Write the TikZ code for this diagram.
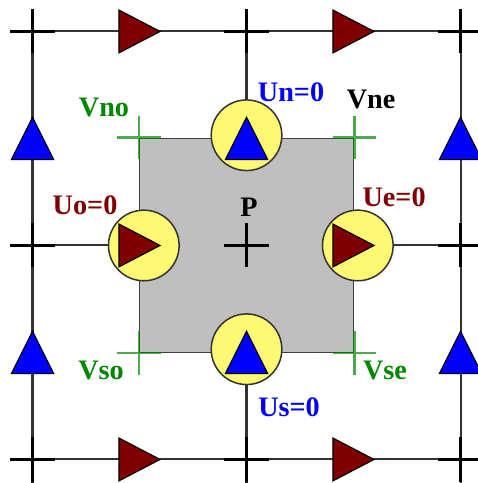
\documentclass[tikz,border=0pt]{standalone}
\usepackage{fontspec}
\setmainfont{Liberation Serif}
\usetikzlibrary{positioning}
\definecolor{udark}{RGB}{128,0,0}
\definecolor{vgreen}{RGB}{0,135,0}

\begin{document}
\begin{tikzpicture}[
  x=2cm, y=2cm,
  font=\bfseries\fontsize{15}{17}\selectfont,
  grid/.style={draw=black!80, line width=1.1pt},
  cross/.style={draw=black, line width=1.2pt},
  vcross/.style={draw=vgreen, line width=1.1pt, opacity=0.7},
  cell/.style={draw=black!75, line width=1pt, fill=black!25, minimum size=4cm, inner sep=0pt},
  disc/.style={circle, draw=black!80, fill=yellow!55, line width=0.8pt, minimum size=1.32cm, inner sep=0pt},
  utri/.pic={\draw[fill=udark, line width=0.6pt] (-0.192,0.2) -- (0.192,0) -- (-0.192,-0.2) -- cycle;},
  vtri/.pic={\draw[fill=blue, line width=0.6pt] (0,0.198) -- (0.198,-0.198) -- (-0.198,-0.198) -- cycle;}
]
\useasboundingbox (-2.304,-2.220) rectangle (2.154,2.294);

% grid lines
\foreach \u in {-2,0,2}
  \draw[grid] (\u,2.206) -- (\u,-2.220);
\foreach \v in {-2,0,2}
  \draw[grid] (-2.206,\v) -- (2.154,\v);

% control volume around P
\node[cell] (cv) at (0,0) {};

% grid nodes
\foreach \u in {-2,0,2}
  \foreach \v in {-2,0,2}
    \draw[cross] (\u-0.206,\v) -- (\u+0.206,\v) (\u,\v-0.206) -- (\u,\v+0.206);

% corner points
\foreach \c in {north west,north east,south west,south east}
  \draw[vcross] ([xshift=-0.41cm]cv.\c) -- ([xshift=0.41cm]cv.\c)
                ([yshift=-0.41cm]cv.\c) -- ([yshift=0.41cm]cv.\c);

% faces of the control volume
\node[disc] (fn) at (0,1.03) {};
\node[disc] (fs) at (0,-0.97) {};
\node[disc] (fo) at (-0.96,0) {};
\node[disc] (fe) at (1.04,0) {};

\pic at (0,1) {vtri};
\pic at (0,-1) {vtri};
\pic at (-1,0) {utri};
\pic at (1,0) {utri};

% outer faces
\foreach \v in {1,-1} {
  \pic at (-2,\v) {vtri};
  \pic at (2,\v) {vtri};
}
\foreach \u in {1,-1} {
  \pic at (\u,2) {utri};
  \pic at (\u,-2) {utri};
}

% labels
\node (lp) at (0.023,0.36) {P};
\node[text=vgreen] (lno) at (-1.332,1.285) {Vno};
\node (lne) at (1.164,1.36) {Vne};
\node[text=vgreen] (lso) at (-1.36,-1.173) {Vso};
\node[text=vgreen] (lse) at (1.294,-1.173) {Vse};
\node[text=blue] (lun) at (0.416,1.435) {Un=0};
\node[text=blue] (lus) at (0.397,-1.509) {Us=0};
\node[text=udark] (luo) at (-1.509,0.379) {Uo=0};
\node[text=udark] (lue) at (1.379,0.453) {Ue=0};
\end{tikzpicture}
\end{document}
